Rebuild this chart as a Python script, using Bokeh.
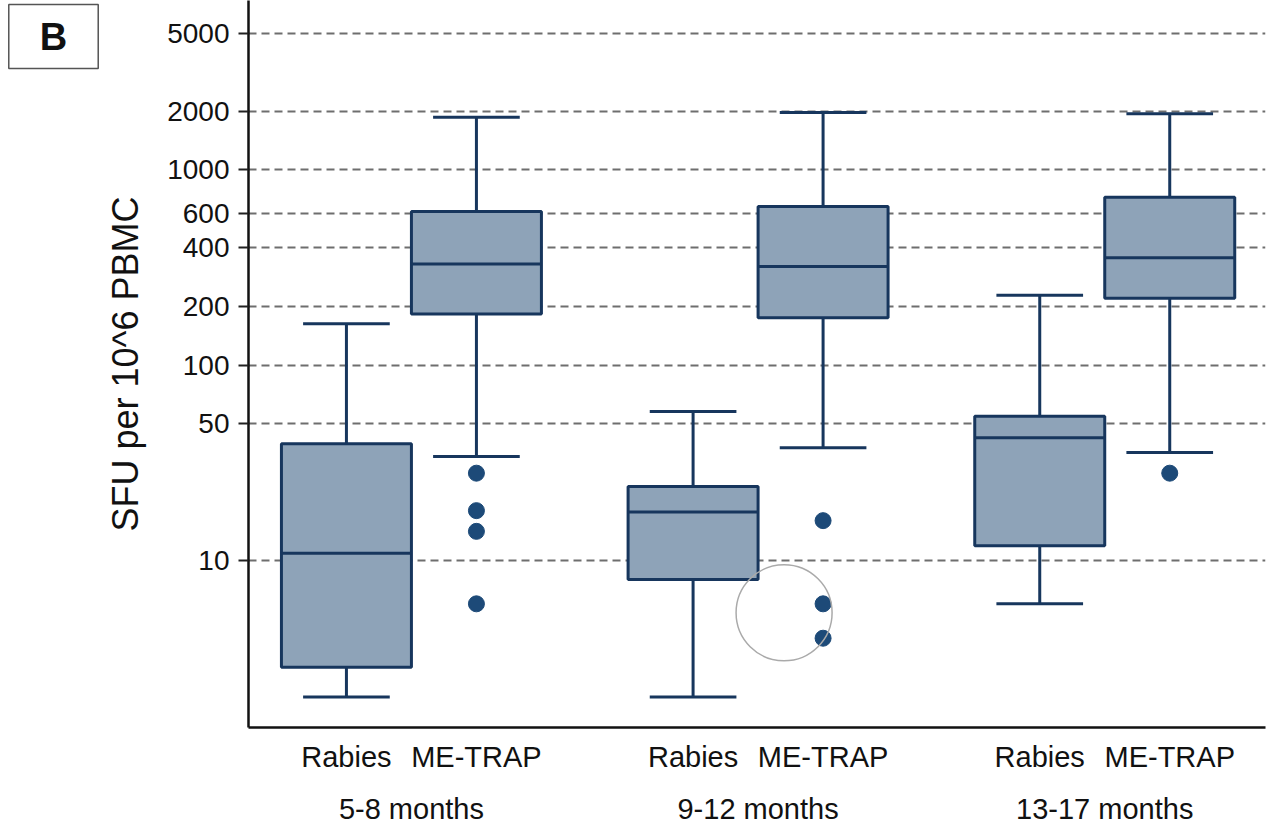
import numpy as np
from bokeh.plotting import figure
from bokeh.models import (Range1d, FixedTicker, LinearAxis, Label)
from bokeh.embed import file_html
from bokeh.resources import INLINE

# ---- data ----
groups = ["5-8 months", "9-12 months", "13-17 months"]
vaccines = ["Rabies", "ME-TRAP"]
whisker_hi = [163, 1860, 58, 1970, 228, 1940]
q3 = [39.6, 612, 23.9, 650, 54.8, 725]
median = [10.9, 330, 17.7, 320, 42.5, 355]
q1 = [2.84, 183, 8.0, 175, 11.9, 220]
whisker_lo = [2.0, 34.1, 2.0, 37.8, 6.0, 35.7]
outliers = [[], [28, 18, 14.1, 6.0], [], [16, 6.0, 4.0], [], [28]]
highlight_value = 5.4
y_ticks = [10, 50, 100, 200, 400, 600, 1000, 2000, 5000]
panel_letter = "B"

# ---- layout helpers ----
BOX_W = 3.0
GROUP_STEP = 8.0
xs = np.array([g * GROUP_STEP + j * BOX_W for g in range(len(groups)) for j in range(len(vaccines))])
sub_labels = [v for g in groups for v in vaccines]
group_centers = [g * GROUP_STEP + BOX_W * (len(vaccines) - 1) / 2 for g in range(len(groups))]

NAVY = "#17365d"
FILL = "#8ea3b8"
DOT = "#1d4a78"
FONT = "Liberation Sans"
TXT = "#111111"

p = figure(width=1272, height=828, y_axis_type="log",
           x_range=Range1d(-2.26, 21.21), y_range=Range1d(1.396, 7370),
           output_backend="svg", toolbar_location=None,
           min_border_left=248, min_border_right=7, min_border_top=0, min_border_bottom=101)
p.outline_line_color = None
p.background_fill_color = "white"
p.border_fill_color = "white"

ya = p.yaxis[0]
ya.ticker = FixedTicker(ticks=y_ticks, minor_ticks=[])
ya.major_label_overrides = {t: str(t) for t in y_ticks}
ya.major_label_text_font = FONT
ya.major_label_text_font_size = "28px"
ya.major_label_text_color = TXT
ya.major_tick_in = 0
ya.major_tick_out = 10
ya.major_tick_line_width = 2
ya.major_tick_line_color = "#222222"
ya.minor_tick_line_color = None
ya.axis_line_width = 2.5
ya.axis_line_color = TXT
ya.major_label_standoff = 9
ya.axis_label = "SFU per 10^6 PBMC"
ya.axis_label_text_font = FONT
ya.axis_label_text_font_style = "normal"
ya.axis_label_text_font_size = "36px"
ya.axis_label_text_color = TXT
ya.axis_label_standoff = 18

p.ygrid.grid_line_color = "#6e6e6e"
p.ygrid.grid_line_width = 2
p.ygrid.grid_line_dash = "8 5"
p.xgrid.grid_line_color = None

xa = p.xaxis[0]
xa.ticker = FixedTicker(ticks=list(xs), minor_ticks=[])
xa.major_label_overrides = {int(x): s for x, s in zip(xs, sub_labels)}
xa.major_tick_line_color = None
xa.minor_tick_line_color = None
xa.axis_line_width = 2.5
xa.axis_line_color = TXT
xa.major_label_text_font = FONT
xa.major_label_text_font_size = "29px"
xa.major_label_text_color = TXT
xa.major_label_standoff = 7

xg = LinearAxis(ticker=FixedTicker(ticks=group_centers, minor_ticks=[]))
xg.major_label_overrides = {float(c): s for c, s in zip(group_centers, groups)}
xg.axis_line_color = None
xg.major_tick_line_color = None
xg.minor_tick_line_color = None
xg.major_label_text_font = FONT
xg.major_label_text_font_size = "29px"
xg.major_label_text_color = TXT
xg.major_label_standoff = 11
p.add_layout(xg, "below")

LW = 3
p.segment(x0=xs, x1=xs, y0=q3, y1=whisker_hi, line_color=NAVY, line_width=LW)
p.segment(x0=xs, x1=xs, y0=q1, y1=whisker_lo, line_color=NAVY, line_width=LW)
cap = BOX_W * 2 / 3
p.segment(x0=xs - cap / 2, x1=xs + cap / 2, y0=whisker_hi, y1=whisker_hi, line_color=NAVY, line_width=LW)
p.segment(x0=xs - cap / 2, x1=xs + cap / 2, y0=whisker_lo, y1=whisker_lo, line_color=NAVY, line_width=LW)

p.vbar(x=xs, width=BOX_W, top=q3, bottom=q1, fill_color=FILL, line_color=NAVY, line_width=LW)
p.segment(x0=xs - BOX_W / 2, x1=xs + BOX_W / 2, y0=median, y1=median, line_color=NAVY, line_width=LW)

ox = [x for x, o in zip(xs, outliers) for _ in o]
oy = [v for o in outliers for v in o]
p.scatter(x=ox, y=oy, size=16, fill_color=DOT, line_color=DOT)

hx = xs[2] + 0.7 * (xs[3] - xs[2])
p.scatter(x=[hx], y=[highlight_value], size=96, fill_color=None, line_color="#aaaaaa", line_width=1.5)

# panel letter in its own box, placed in canvas pixels in the left panel
lab = Label(x=53, y=36, x_units="canvas", y_units="canvas", text=panel_letter,
            text_font=FONT, text_font_size="38px", text_font_style="bold",
            text_align="center", text_baseline="middle", text_color=TXT,
            border_line_color="#555555", border_line_width=1.5, background_fill_color="white",
            padding=(31, 11))
p.add_layout(lab, "left")

open("out.html", "w").write(file_html(p, INLINE))
